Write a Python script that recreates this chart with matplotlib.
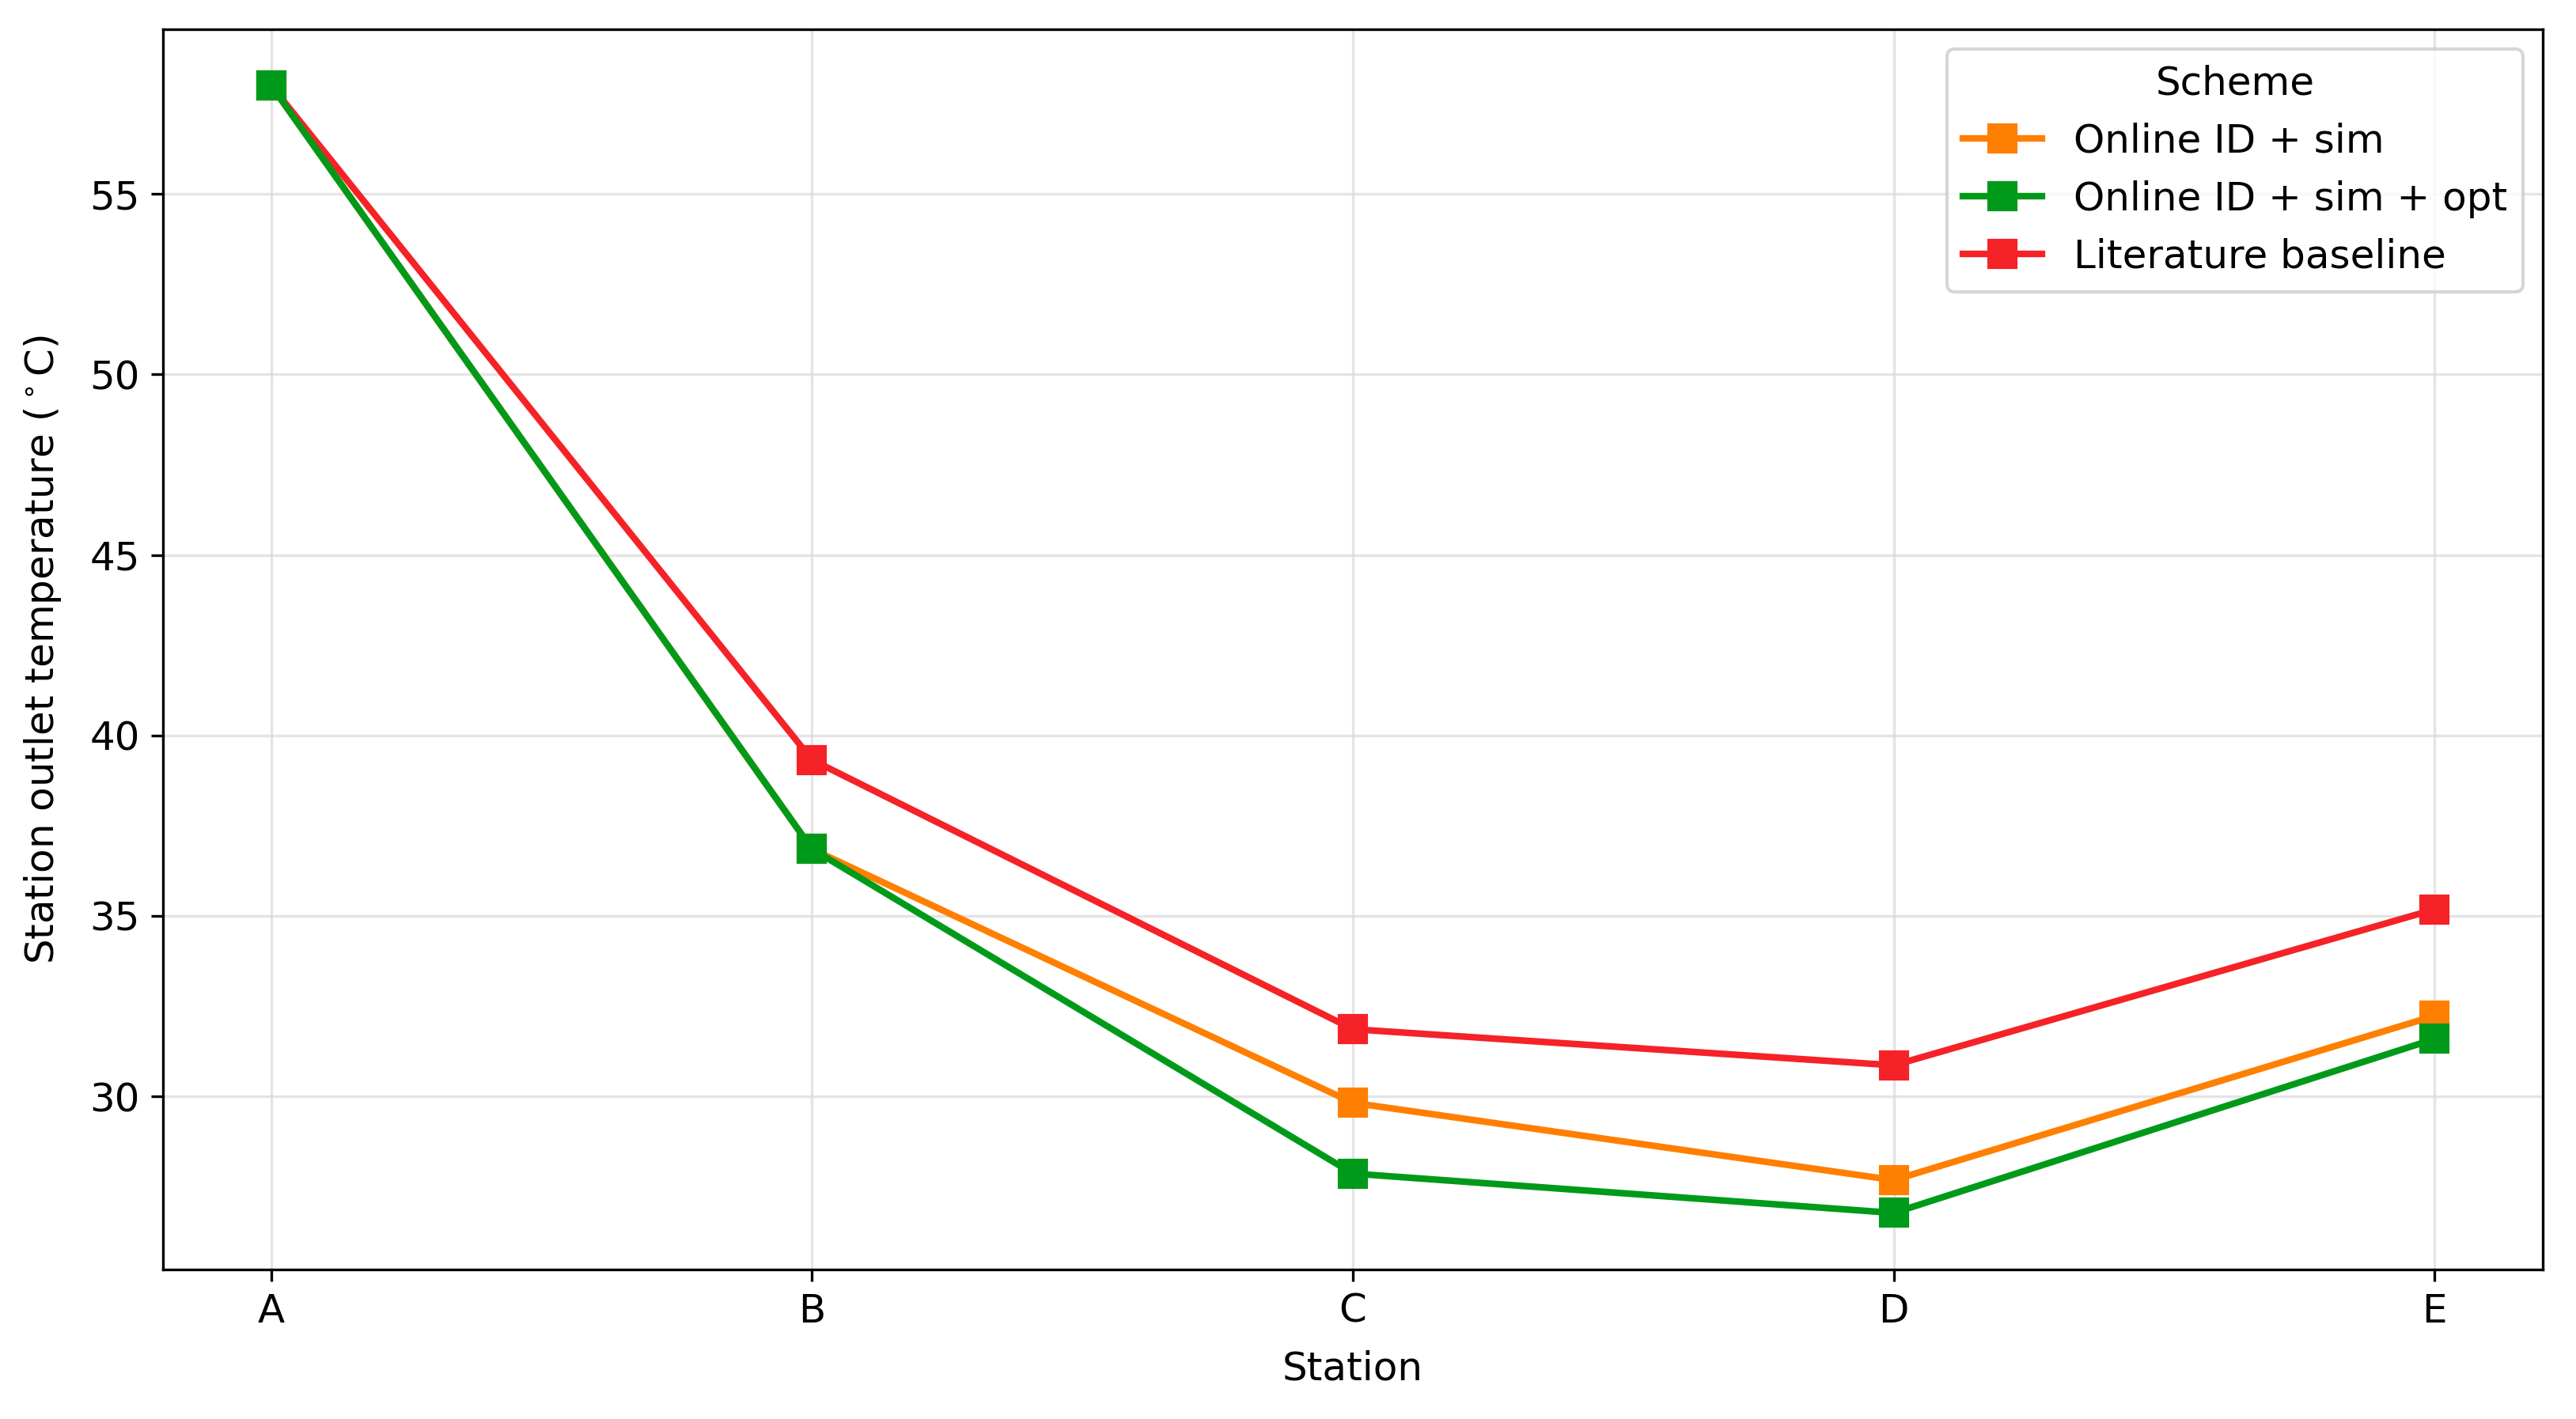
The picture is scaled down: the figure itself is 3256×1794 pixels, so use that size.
import matplotlib
matplotlib.use("Agg")
import matplotlib.pyplot as plt

stations = ["A", "B", "C", "D", "E"]
online_sim = [58.0, 36.85, 29.82, 27.68, 32.23]
online_sim_opt = [58.0, 36.85, 27.86, 26.77, 31.59]
literature = [58.0, 39.32, 31.86, 30.86, 35.18]

series_names = ["Online ID + sim", "Online ID + sim + opt", "Literature baseline"]
colors = ["#ff7f00", "#009a1a", "#f52228"]
zorders = [2, 4, 3]

plt.rcParams["font.size"] = 12

fig = plt.figure(figsize=(3256/300, 1794/300), dpi=300)
ax = fig.add_axes([0.0633, 0.1055, 0.9238, 0.8739])

x = list(range(len(stations)))
for vals, name, c, z in zip([online_sim, online_sim_opt, literature], series_names, colors, zorders):
    ax.plot(x, vals, marker="s", markersize=8, linewidth=2, color=c, label=name, zorder=z)

ax.set_xticks(x)
ax.set_xticklabels(stations)
ax.set_xlabel("Station", labelpad=6)
ax.set_ylabel(r"Station outlet temperature ($^\circ$C)", labelpad=8)
ax.grid(True, color="#d9d9d9", alpha=0.7, linewidth=0.8)
ax.set_axisbelow(True)
ax.legend(title="Scheme", loc="upper right", fontsize=12, title_fontsize=12)

fig.savefig("out.png", dpi=300)
